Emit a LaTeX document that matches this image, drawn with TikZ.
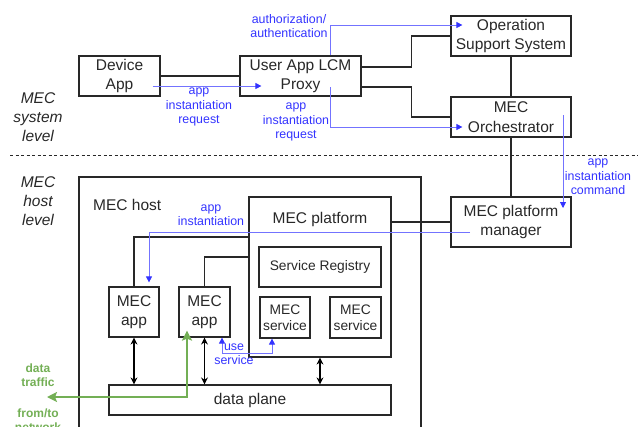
\documentclass[tikz,border=0pt]{standalone}
\usepackage{fontspec}
\setmainfont{Liberation Sans}
\usetikzlibrary{arrows.meta, positioning}
\definecolor{mecblue}{RGB}{51,51,255}
\definecolor{mecline}{RGB}{115,115,255}
\definecolor{mecgreen}{RGB}{115,175,85}
\definecolor{mecgray}{RGB}{40,40,40}
\tikzset{
  box/.style={draw=mecgray, line width=1.2pt, text=mecgray, align=center, inner sep=0pt,
    font=\fontsize{15.5}{19.5}\selectfont},
  smallbox/.style={box, font=\fontsize{13.8}{16.5}\selectfont},
  caption/.style={text=mecgray, align=center, inner sep=0pt, font=\fontsize{15.5}{19.5}\selectfont},
  tierlabel/.style={caption, font=\fontsize{15.5}{19}\selectfont\itshape},
  link/.style={draw=mecgray, line width=1.1pt},
  duplex/.style={draw=black, line width=1.4pt, {Stealth[length=7pt,width=7pt]}-{Stealth[length=7pt,width=7pt]}},
  flow/.style={draw=mecline, line width=0.8pt, -{Triangle[length=6pt,width=6pt,color=mecblue]}},
  flowtext/.style={text=mecblue, align=center, inner sep=0pt, font=\fontsize{12.4}{14.5}\selectfont},
  traffic/.style={draw=mecgreen, line width=2.2pt, {Stealth[length=10pt,width=10pt,inset=2pt]}-{Stealth[length=10pt,width=10pt,inset=2pt]}},
  traffictext/.style={text=mecgreen, align=center, inner sep=0pt, font=\fontsize{12}{14.5}\selectfont\bfseries}
}
\begin{document}
\begin{tikzpicture}[x=1pt, y=-1pt]
  \useasboundingbox (0,0) rectangle (644,426);

  % system level
  \node[box, minimum width=81pt, minimum height=40pt] (dev) at (119.5,76) {Device\\App};
  \node[box, minimum width=121pt, minimum height=40pt] (proxy) at (300.5,76) {User App LCM\\Proxy};
  \node[box, minimum width=120pt, minimum height=40pt] (oss) at (511,36) {Operation\\Support System};
  \node[box, minimum width=120pt, minimum height=40pt] (orch) at (511,117) {MEC\\Orchestrator};
  \node[box, minimum width=120pt, minimum height=50pt] (mpm) at (511,222) {MEC platform\\manager};

  \node[tierlabel] (syslevel) at (38,117) {MEC\\system\\level};
  \node[tierlabel] (hostlevel) at (38,201) {MEC\\host\\level};
  \draw[mecgray, dash pattern=on 3pt off 2.5pt, line width=0.8pt] (10,155) -- (638,155);

  % host level
  \node[box, minimum width=342pt, minimum height=263pt] (host) at (250,308.5) {};
  \node[caption, anchor=west] (hostname) at (93,205) {MEC host};
  \node[box, minimum width=142pt, minimum height=160pt] (plat) at (320,277) {};
  \node[caption] (platname) at (320,219) {MEC platform};
  \node[smallbox, minimum width=122pt, minimum height=40pt] (reg) at (320,267) {Service Registry};
  \node[smallbox, minimum width=50pt, minimum height=41pt] (svc1) at (285,317.5) {MEC\\service};
  \node[smallbox, minimum width=51pt, minimum height=41pt] (svc2) at (355.5,317.5) {MEC\\service};
  \node[box, minimum width=50pt, minimum height=50pt] (app1) at (134,312) {MEC\\app};
  \node[box, minimum width=51pt, minimum height=50pt] (app2) at (204.5,312) {MEC\\app};
  \node[box, minimum width=282pt, minimum height=30pt] (dp) at (250,400) {data plane};
  \coordinate (net) at (47,397);

  \draw[link] (dev.east) -- (proxy.west);
  \draw[link] ([yshift=9pt]proxy.east) -- ++(50,0) |- (oss.west);
  \draw[link] ([yshift=-11pt]proxy.east) -- ++(50,0) |- (orch.west);
  \draw[link] (oss.south) -- (orch.north);
  \draw[link] (orch.south) -- (mpm.north);
  \draw[link] (plat.east |- mpm.west) -- (mpm.west);
  \draw[link] ([yshift=40pt]plat.west) -| (app1.north);
  \draw[link] ([yshift=20pt]plat.west) -| (app2.north);

  \draw[duplex] (app1.south) -- (app1.south |- dp.north);
  \draw[duplex] (app2.south) -- (app2.south |- dp.north);
  \draw[duplex] (plat.south) -- (plat.south |- dp.north);

  % blue flows
  \draw[flow] ([shift={(-8pt,-10pt)}]dev.east) -- ([shift={(22pt,-10pt)}]proxy.west);
  \draw[flow] ([xshift=29.5pt]proxy.north) |- ([shift={(12pt,11pt)}]oss.west);
  \draw[flow] ([shift={(29.5pt,-11pt)}]proxy.center) |- ([shift={(12pt,-10pt)}]orch.west);
  \draw[flow] ([shift={(52pt,2pt)}]orch.center) -- ([shift={(52pt,14pt)}]mpm.center);
  \draw[flow] ([shift={(-41pt,-10pt)}]mpm.center) -| ([shift={(15pt,4pt)}]app1.north);
  \draw[flow, {Triangle[length=6pt,width=6pt,color=mecblue]}-{Triangle[length=6pt,width=6pt,color=mecblue]}]
    ([xshift=17.5pt]app2.south) -- ++(0,16) -| ([xshift=-13pt]svc1.south);

  \node[flowtext] (req1) at (199,107) {app\\instantiation\\request};
  \node[flowtext] (auth) at (289,26) {authorization/\\authentication};
  \node[flowtext] (req2) at (296,122) {app\\instantiation\\request};
  \node[flowtext] (cmd) at (598,177) {app\\instantiation\\command};
  \node[flowtext] (inst) at (211,215) {app\\instantiation};
  \node[flowtext] (use) at (234,354) {use\\service};

  % data traffic
  \draw[traffic] ([shift={(-17.5pt,7pt)}]app2.south) |- (net);
  \node[traffictext] (traffic) at (38,375) {data\\traffic};
  \node[traffictext] (fromto) at (38,420) {from/to\\network};
\end{tikzpicture}
\end{document}
